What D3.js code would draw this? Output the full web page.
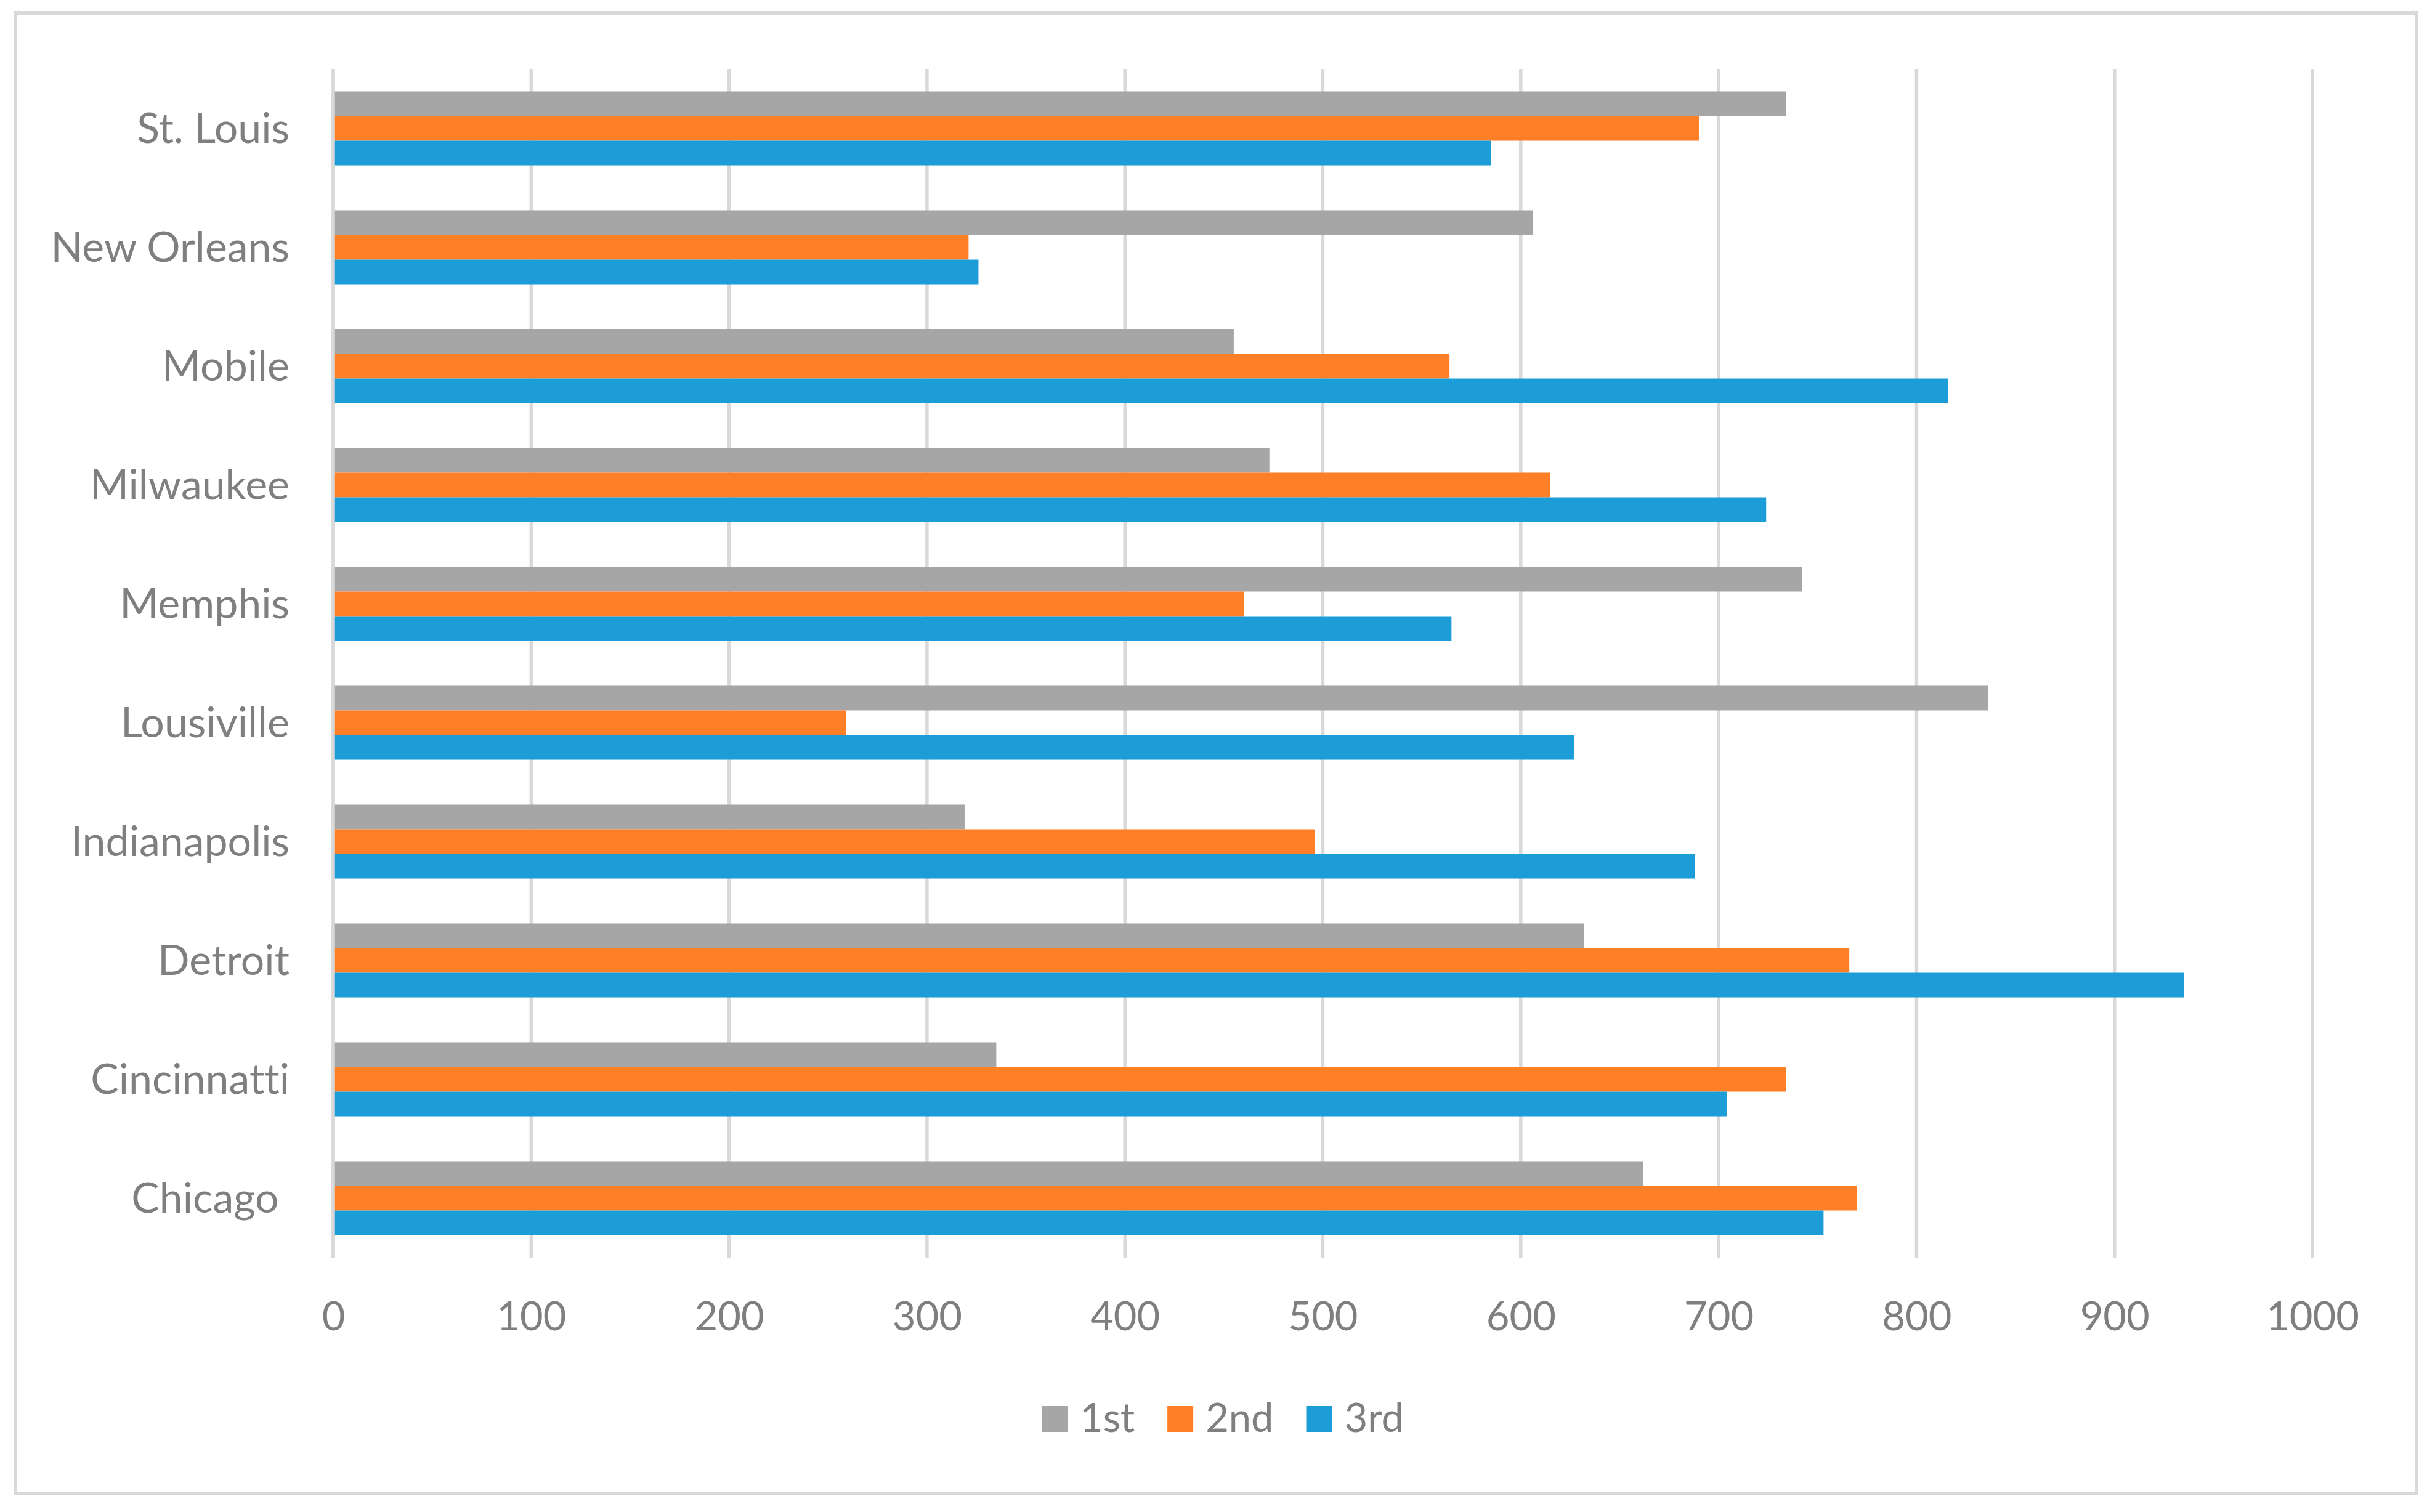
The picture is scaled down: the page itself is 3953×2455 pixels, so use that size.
<!DOCTYPE html>
<html lang="en">
	<head>
		<meta charset="UTF-8" />
		<title>Bar chart by city</title>
		<script src="https://d3js.org/d3.v7.min.js"></script>
		<style>
			body { margin: 0; background: #fff; }
			text { font-family: Lato, 'Open Sans', sans-serif; fill: #7f7f7f; font-variant-ligatures: none; }
		</style>
	</head>
	<body>
		<svg width="3953" height="2455"></svg>

		<script>
			// data, bottom to top as in the sheet
			const cities = ['Chicago ', 'Cincinnatti', 'Detroit', 'Indianapolis', 'Lousiville', 'Memphis', 'Milwaukee', 'Mobile', 'New Orleans', 'St. Louis'];
			const seriesNames = ['1st', '2nd', '3rd'];
			const first = [662, 335, 632, 319, 836, 742, 473, 455, 606, 734];
			const second = [770, 734, 766, 496, 259, 460, 615, 564, 321, 690];
			const third = [753, 704, 935, 688, 627, 565, 724, 816, 326, 585];
			const xTicks = [0, 100, 200, 300, 400, 500, 600, 700, 800, 900, 1000];
			const colors = ['#a6a6a6', '#ff7f27', '#1c9dd8'];

			const seriesValues = [first, second, third];
			const rows = cities.map((c, i) => ({ city: c, values: seriesValues.map((s, j) => ({ key: seriesNames[j], value: s[i] })) }));

			const svg = d3.select('svg');

			const plot = { left: 541, right: 3754, top: 112, bottom: 2042 };

			// chart frame
			svg.append('rect').attr('x', 25).attr('y', 21).attr('width', 3898).attr('height', 2404).style('fill', '#fff').style('stroke', '#d9d9d9').style('stroke-width', 6);

			const x = d3.scaleLinear().domain([0, 1000]).range([plot.left, plot.right]);

			// top row is the last city
			const y = d3
				.scaleBand()
				.domain(cities.slice().reverse())
				.range([plot.top, plot.bottom])
				.paddingInner(0.378)
				.paddingOuter(0.189);

			const ySub = d3.scaleBand().domain(seriesNames).range([0, y.bandwidth()]);
			const color = d3.scaleOrdinal().domain(seriesNames).range(colors);

			// vertical gridlines
			svg.append('g')
				.selectAll('line')
				.data(xTicks)
				.enter()
				.append('line')
				.attr('x1', d => x(d))
				.attr('x2', d => x(d))
				.attr('y1', plot.top)
				.attr('y2', plot.bottom)
				.style('stroke', '#d9d9d9')
				.style('stroke-width', 5.5);

			// bars
			const group = svg.append('g')
				.selectAll('g')
				.data(rows)
				.enter()
				.append('g')
				.attr('transform', d => `translate(0,${y(d.city)})`);

			group
				.selectAll('rect')
				.data(d => d.values)
				.enter()
				.append('rect')
				.attr('x', x(0))
				.attr('y', d => ySub(d.key))
				.attr('width', d => x(d.value) - x(0))
				.attr('height', ySub.bandwidth())
				.style('fill', d => color(d.key));

			// value axis line over bar starts
			svg.append('line').attr('x1', x(0)).attr('x2', x(0)).attr('y1', plot.top).attr('y2', plot.bottom).style('stroke', '#d9d9d9').style('stroke-width', 5.5);

			// category labels
			const yAxis = svg
				.append('g')
				.attr('transform', `translate(${plot.left - 71},0)`)
				.call(d3.axisLeft(y).tickSize(0).tickPadding(0));
			yAxis.select('.domain').remove();
			yAxis
				.selectAll('text')
				.attr('dy', '0.34em')
				.style('font-family', 'Lato, sans-serif')
				.style('font-size', '68px')
				.style('fill', '#7f7f7f')
				.style('white-space', 'pre');

			// value labels
			const xAxis = svg
				.append('g')
				.attr('transform', `translate(0,${plot.bottom})`)
				.call(d3.axisBottom(x).tickValues(xTicks).tickFormat(d3.format('d')).tickSize(0).tickPadding(0));
			xAxis.select('.domain').remove();
			xAxis
				.selectAll('text')
				.attr('y', 118)
				.attr('dy', 0)
				.style('font-family', 'Lato, sans-serif')
				.style('font-size', '65px')
				.style('fill', '#7f7f7f');

			// legend
			const legend = svg.append('g');
			const sw = 42;
			const gapText = 20;
			const gapItem = 53;
			const items = legend
				.selectAll('g')
				.data(seriesNames)
				.enter()
				.append('g');
			items.append('rect').attr('y', 2283).attr('width', sw).attr('height', sw).style('fill', d => color(d));
			items
				.append('text')
				.attr('x', sw + gapText)
				.attr('y', 2325)
				.style('font-size', '65px')
				.text(d => d);

			let offset = 0;
			const widths = [];
			items.each(function () {
				const w = sw + gapText + d3.select(this).select('text').node().getComputedTextLength();
				widths.push(w);
			});
			const total = d3.sum(widths) + gapItem * (widths.length - 1);
			const start = 1985 - total / 2;
			items.attr('transform', (d, i) => {
				const t = `translate(${start + offset},0)`;
				offset += widths[i] + gapItem;
				return t;
			});
		</script>
	</body>
</html>
